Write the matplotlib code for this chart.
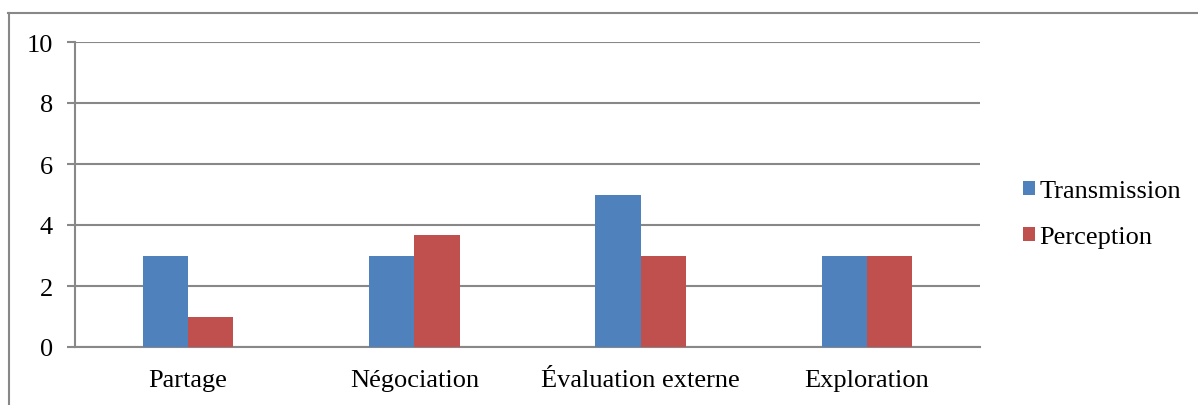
import matplotlib
matplotlib.use("Agg")
import matplotlib.pyplot as plt
import numpy as np
from matplotlib.lines import Line2D

categories = ["Partage", "Négociation", "Évaluation externe", "Exploration"]
transmission = [3, 3, 5, 3]
perception = [1, 3.67, 3, 3]
yticks = [0, 2, 4, 6, 8, 10]

plt.rcParams['font.family'] = ['Liberation Serif', 'DejaVu Serif']

W, H = 1198, 406
fig = plt.figure(figsize=(W/100, H/100), dpi=100)

# outer frame
fig.add_artist(Line2D([8/W, 1197/W], [1 - 14/H, 1 - 14/H], color='#888888', lw=1.5, transform=fig.transFigure))
fig.add_artist(Line2D([9/W, 9/W], [0, 1 - 14/H], color='#888888', lw=1.5, transform=fig.transFigure))

ax = fig.add_axes([75/W, 58/H, (980-75)/W, (348-43)/H])
x = np.arange(len(categories)) + 0.5
bw = 0.2
ax.bar(x - bw/2, transmission, bw, color='#4F81BD', label='Transmission', zorder=3)
ax.bar(x + bw/2, perception, bw, color='#C0504D', label='Perception', zorder=3)

ax.set_xlim(0, 4)
ax.set_ylim(0, 10)
ax.set_yticks(yticks)
ax.set_xticks(x)
ax.set_xticklabels(categories, fontsize=19)
ax.tick_params(axis='y', labelsize=19, length=6, width=1.5, color='#888888', pad=10)
ax.tick_params(axis='x', length=0, pad=16)
ax.grid(axis='y', color='#888888', lw=1.5, zorder=0)
for s in ['top', 'right']:
    ax.spines[s].set_visible(False)
ax.spines['left'].set_color('#888888')
ax.spines['left'].set_linewidth(1.5)
ax.spines['bottom'].set_color('#888888')
ax.spines['bottom'].set_linewidth(1.5)

ax.legend(loc='center left', bbox_to_anchor=(1.048, 0.435), frameon=False, fontsize=19,
          handlelength=0.45, handleheight=0.45, handletextpad=0.15, labelspacing=0.9,
          borderpad=0, borderaxespad=0)

fig.savefig("out.png", dpi=100)
